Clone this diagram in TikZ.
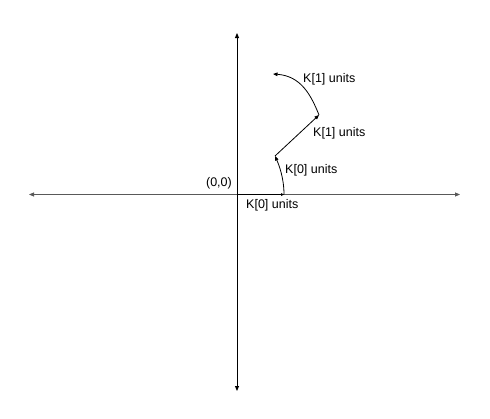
\documentclass[tikz,border=0pt]{standalone}
\usepackage{fontspec}
\setmainfont{Liberation Sans}
\usetikzlibrary{arrows.meta}
\begin{document}
\begin{tikzpicture}[x=1pt,y=-1pt,
  axis/.style={line width=0.9pt,-{Triangle[length=5pt,width=4pt]}},
  vec/.style={line width=0.8pt,black,-{Triangle[length=4.5pt,width=3.6pt]}},
  lbl/.style={font=\fontsize{12.5}{14}\selectfont,inner sep=0pt,anchor=west}]
\useasboundingbox (0,0) rectangle (490,418);
\coordinate (O) at (237,194.5);
\coordinate (L) at (29,194.5);
\coordinate (R) at (460,194.5);
\coordinate (T) at (237,33);
\coordinate (B) at (237,391);
\coordinate (P1) at (284,194.5);
\coordinate (P2) at (275,156);
\coordinate (P3) at (319,115);
\coordinate (P4) at (273,74);
\draw[axis,black!65] (O) -- (L);
\draw[axis,black!65] (O) -- (R);
\draw[axis,black] (O) -- (T);
\draw[axis,black] (O) -- (B);
\draw[line width=1.4pt,black,-{Triangle[length=3pt,width=3pt,line width=0pt]}] (O) -- (P1);
\draw[vec] (P1) .. controls (284,178) and (279,165) .. (P2);
\draw[vec] (P2) -- (P3);
\draw[vec] (P3) .. controls (311,95) and (301,76) .. (P4);
\node[lbl,anchor=east] (n0) at (232,183) {(0,0)};
\node[lbl] (k0a) at (246,205) {K[0] units};
\node[lbl] (k0b) at (285,170) {K[0] units};
\node[lbl] (k1a) at (313,133) {K[1] units};
\node[lbl] (k1b) at (303,79) {K[1] units};
\end{tikzpicture}
\end{document}
